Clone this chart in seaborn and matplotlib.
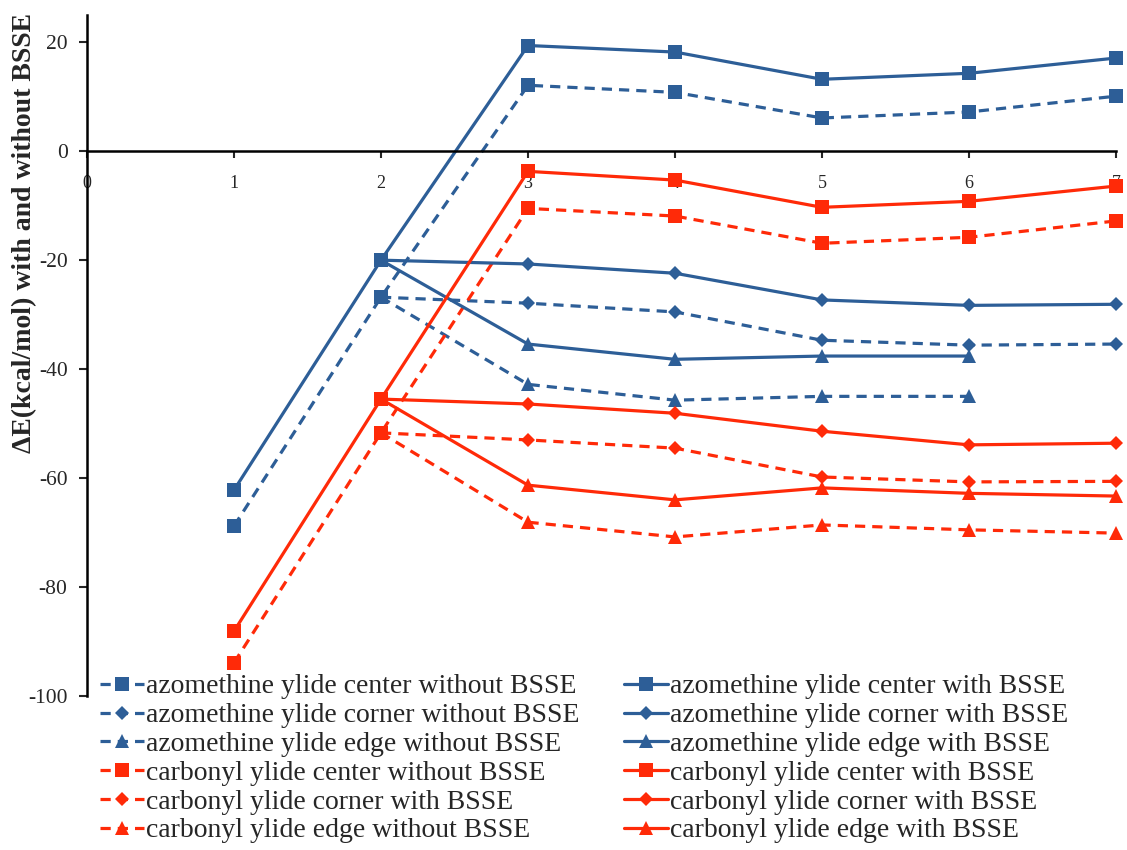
import matplotlib
matplotlib.use("Agg")
import matplotlib.pyplot as plt
import seaborn as sns
import pandas as pd
import numpy as np

sns.set_style("white")
plt.rcParams['font.family'] = ['Liberation Serif', 'DejaVu Serif']
plt.rcParams['axes.unicode_minus'] = False

BLUE = '#2D5E97'
RED = '#FF2A08'

x_center = [1, 2, 3, 4, 5, 6, 7]
x_corner = [2, 3, 4, 5, 6, 7]
x_edge_az = [2, 3, 4, 5, 6]
x_edge_cy = [2, 3, 4, 5, 6, 7]

az_center_wo = [-68.8, -26.8, 12.1, 10.8, 6.1, 7.2, 10.1]
az_corner_wo = [-26.8, -27.9, -29.5, -34.7, -35.6, -35.4]
az_edge_wo = [-26.8, -42.8, -45.7, -45.0, -45.0]
cy_center_wo = [-93.9, -51.7, -10.5, -11.9, -16.9, -15.8, -12.8]
cy_corner_wo = [-51.7, -53.0, -54.5, -59.8, -60.7, -60.6]
cy_edge_wo = [-51.7, -68.1, -70.8, -68.6, -69.5, -70.1]

az_center_w = [-62.2, -20.0, 19.4, 18.2, 13.2, 14.3, 17.1]
az_corner_w = [-20.0, -20.7, -22.4, -27.3, -28.3, -28.1]
az_edge_w = [-20.0, -35.4, -38.2, -37.6, -37.6]
cy_center_w = [-88.1, -45.5, -3.7, -5.3, -10.3, -9.2, -6.4]
cy_corner_w = [-45.5, -46.4, -48.1, -51.4, -53.9, -53.6]
cy_edge_w = [-45.5, -61.3, -64.0, -61.8, -62.8, -63.3]

labels = [
    "azomethine ylide center without BSSE",
    "azomethine ylide corner without BSSE",
    "azomethine ylide edge without BSSE",
    "carbonyl ylide center without BSSE",
    "carbonyl ylide corner with BSSE",
    "carbonyl ylide edge without BSSE",
    "azomethine ylide center with BSSE",
    "azomethine ylide corner with BSSE",
    "azomethine ylide edge with BSSE",
    "carbonyl ylide center with BSSE",
    "carbonyl ylide corner with BSSE",
    "carbonyl ylide edge with BSSE",
]

DASH = (0, (3.2, 2.2))
series = [
    (x_center, az_center_wo, BLUE, DASH, 's'),
    (x_corner, az_corner_wo, BLUE, DASH, 'D'),
    (x_edge_az, az_edge_wo, BLUE, DASH, '^'),
    (x_center, cy_center_wo, RED, DASH, 's'),
    (x_corner, cy_corner_wo, RED, DASH, 'D'),
    (x_edge_cy, cy_edge_wo, RED, DASH, '^'),
    (x_center, az_center_w, BLUE, '-', 's'),
    (x_corner, az_corner_w, BLUE, '-', 'D'),
    (x_edge_az, az_edge_w, BLUE, '-', '^'),
    (x_center, cy_center_w, RED, '-', 's'),
    (x_corner, cy_corner_w, RED, '-', 'D'),
    (x_edge_cy, cy_edge_w, RED, '-', '^'),
]

fig = plt.figure(figsize=(11.27, 8.5), dpi=100)
ax = fig.add_axes([87/1127, 1-696/850, (1116-87)/1127, (696-15)/850])

for (xs, ys, col, ls, mk), lab in zip(series, labels):
    ms = {'s': 9.5, 'D': 7.5, '^': 9.5}[mk]
    sns.lineplot(x=xs, y=ys, ax=ax, color=col, linestyle=ls, marker=mk,
                 markersize=ms, markeredgewidth=0, linewidth=2.3,
                 label=lab, clip_on=False, legend=False)

ax.set_xlim(0, 7)
ax.set_ylim(-100, 25)
ax.set_yticks([-100, -80, -60, -40, -20, 0, 20])
ax.set_xticks(range(0, 8))
ax.spines['bottom'].set_position(('data', 0))
ax.spines['top'].set_visible(False)
ax.spines['right'].set_visible(False)
for s in ['left', 'bottom']:
    ax.spines[s].set_linewidth(1.8)
    ax.spines[s].set_color('black')
ax.tick_params(axis='y', direction='out', length=6, width=1.5, labelsize=15.5, pad=8, left=True)
ax.tick_params(axis='x', direction='out', length=5, width=1.5, labelsize=13, pad=12, bottom=True)
ax.grid(False)

fig.text(25/1127, 1-233/850, "ΔE(kcal/mol) with and without BSSE", rotation=90,
         ha='center', va='center', fontsize=20, fontweight='bold')

handles, labs = ax.get_legend_handles_labels()
fig.legend(handles, labs, loc='upper left', bbox_to_anchor=(100/1127, 1-674/850),
           ncol=2, frameon=False, fontsize=20, handlelength=1.6, handletextpad=0.05,
           columnspacing=1.6, labelspacing=0.12, borderaxespad=0, borderpad=0)

fig.savefig("out.png", dpi=100)
